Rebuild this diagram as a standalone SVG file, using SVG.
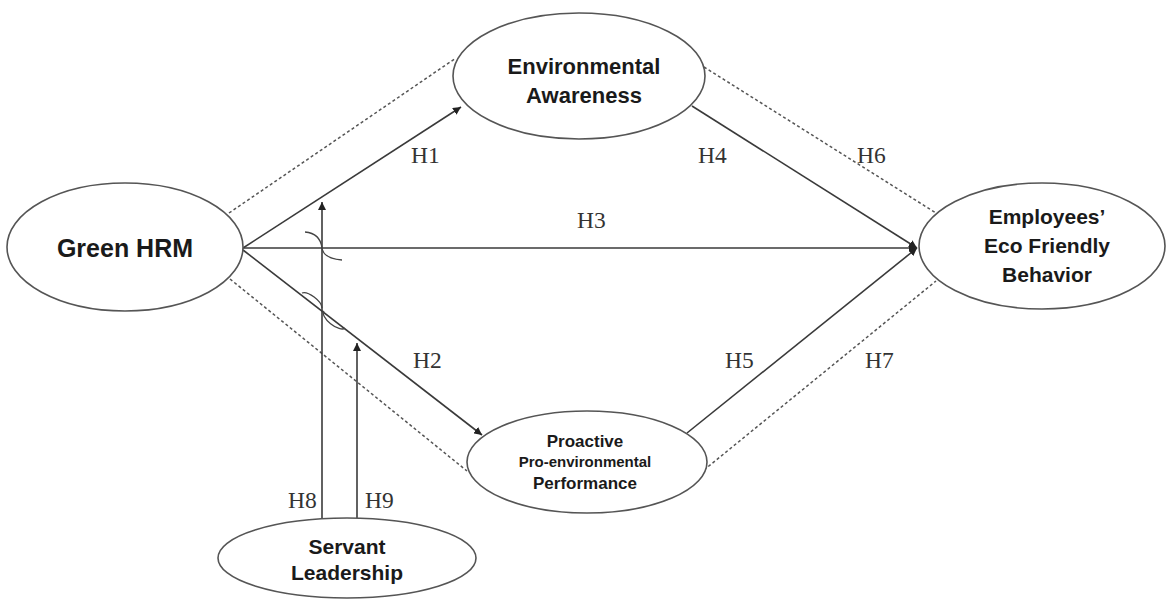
<svg xmlns="http://www.w3.org/2000/svg" width="1167" height="600" viewBox="0 0 1167 600">
<defs>
<marker id="arr" viewBox="0 0 10 10" refX="10" refY="5" markerWidth="8" markerHeight="8" markerUnits="userSpaceOnUse" orient="auto">
<path d="M0,0 L10,5 L0,10 z" fill="#222"/>
</marker>
<style>
.node{fill:#fff;stroke:#555;stroke-width:1.6}
.lbl{font-family:"Liberation Sans",Arial,sans-serif;font-weight:bold;fill:#1a1a1a;text-anchor:middle}
.h{font-family:"Liberation Serif","Times New Roman",serif;font-size:23.5px;fill:#333}
.ln{stroke:#3a3a3a;stroke-width:1.6;fill:none}
.dot{stroke:#555;stroke-width:1.5;stroke-dasharray:3 2.5;fill:none}
.jump{stroke:#444;stroke-width:1.3;fill:none}
</style>
</defs>
<rect width="1167" height="600" fill="#fff"/>
<g id="connectors">
<line class="dot" x1="229" y1="213" x2="456" y2="58"/>
<line class="dot" x1="704" y1="67" x2="936" y2="213"/>
<line class="dot" x1="230" y1="279" x2="467" y2="471"/>
<line class="dot" x1="704" y1="470" x2="936" y2="281"/>
<line class="ln" x1="243" y1="248" x2="461" y2="107" marker-end="url(#arr)"/>
<line class="ln" x1="243" y1="250" x2="482" y2="435" marker-end="url(#arr)"/>
<line class="ln" x1="243" y1="248" x2="917" y2="248" marker-end="url(#arr)"/>
<line class="ln" x1="692" y1="106" x2="917" y2="248" marker-end="url(#arr)"/>
<line class="ln" x1="687" y1="433" x2="917" y2="248" marker-end="url(#arr)"/>
<line class="ln" x1="322" y1="518" x2="322" y2="202" marker-end="url(#arr)"/>
<line class="ln" x1="357" y1="518" x2="357" y2="343" marker-end="url(#arr)"/>
<path class="jump" d="M305,232 C316,233 321,240 322,248 C323,256 330,259 342,260"/>
<path class="jump" d="M302,293 A13,5.5 38 0 1 322,308"/>
<path class="jump" d="M324,311 A13,5.5 38 0 0 345,328"/>
<text class="h" x="411" y="163">H1</text>
<text class="h" x="413" y="368">H2</text>
<text class="h" x="577" y="228">H3</text>
<text class="h" x="698" y="163">H4</text>
<text class="h" x="725" y="368">H5</text>
<text class="h" x="857" y="163">H6</text>
<text class="h" x="865" y="368">H7</text>
<text class="h" x="288" y="508">H8</text>
<text class="h" x="365" y="508">H9</text>
</g>
<g id="green-hrm">
<ellipse class="node" cx="125" cy="247" rx="118" ry="64"/>
<text class="lbl" x="125" y="257" font-size="25">Green HRM</text>
</g>
<g id="environmental-awareness">
<ellipse class="node" cx="579" cy="76" rx="126" ry="63"/>
<text class="lbl" x="584" y="74" font-size="22">Environmental</text>
<text class="lbl" x="584" y="103" font-size="22">Awareness</text>
</g>
<g id="employees-behavior">
<ellipse class="node" cx="1042" cy="246" rx="123" ry="63"/>
<text class="lbl" x="1047" y="224" font-size="21">Employees’</text>
<text class="lbl" x="1047" y="253" font-size="21">Eco Friendly</text>
<text class="lbl" x="1047" y="282" font-size="21">Behavior</text>
</g>
<g id="proactive-performance">
<ellipse class="node" cx="587" cy="462" rx="120" ry="51"/>
<text class="lbl" x="585" y="447" font-size="17">Proactive</text>
<text class="lbl" x="585" y="467" font-size="15">Pro-environmental</text>
<text class="lbl" x="585" y="489" font-size="17">Performance</text>
</g>
<g id="servant-leadership">
<ellipse class="node" cx="347" cy="558" rx="129" ry="40"/>
<text class="lbl" x="347" y="554" font-size="21">Servant</text>
<text class="lbl" x="347" y="580" font-size="21">Leadership</text>
</g>
</svg>
